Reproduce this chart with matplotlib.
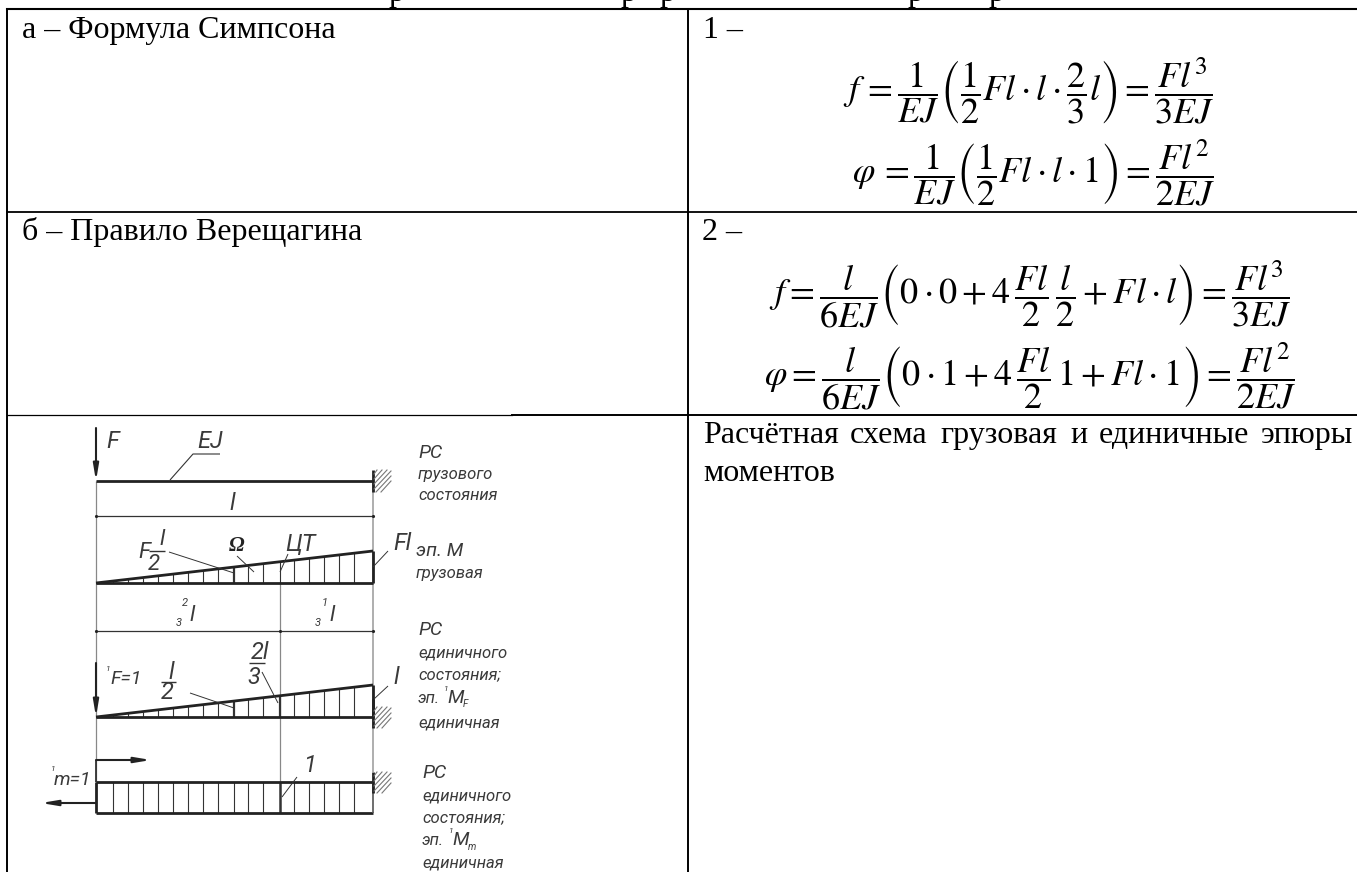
import matplotlib
matplotlib.use("Agg")
import matplotlib.pyplot as plt

plt.rcParams['font.family'] = ['Liberation Serif', 'DejaVu Serif']
plt.rcParams['mathtext.fontset'] = 'stix'

# ---- table content -------------------------------------------------------
row_lines = [9, 212, 415]
col_left, col_mid = 7, 688
cell_a = "а – Формула Симпсона"
cell_b = "б – Правило Верещагина"
cell_1 = "1 –"
cell_2 = "2 –"
note_words = ["Расчётная", "схема", "грузовая", "и", "единичные", "эпюры"]
note_xs = [703, 850, 940, 1070, 1099, 1261]
note_line2 = "моментов"

f1 = r"$f\,=\dfrac{1}{EJ}\left(\dfrac{1}{2}Fl\cdot l\cdot\dfrac{2}{3}l\right)=\dfrac{Fl^3}{3EJ}$"
phi1 = r"$\varphi\,=\dfrac{1}{EJ}\left(\dfrac{1}{2}Fl\cdot l\cdot 1\right)=\dfrac{Fl^2}{2EJ}$"
f2 = r"$f=\dfrac{l}{6EJ}\left(0\cdot 0+4\,\dfrac{Fl}{2}\,\dfrac{l}{2}+Fl\cdot l\right)=\dfrac{Fl^3}{3EJ}$"
phi2 = r"$\varphi=\dfrac{l}{6EJ}\left(0\cdot 1+4\,\dfrac{Fl}{2}\,1+Fl\cdot 1\right)=\dfrac{Fl^2}{2EJ}$"

# ---- diagram geometry values (pixels of the drawing) ----------------------
beam_x0, beam_x1, ct_x, half_x = 96, 373, 280, 234
hatch_x = [113, 128, 143, 158, 173, 188, 203, 218, 234, 248, 263, 280, 294, 309, 324, 339, 354]
y_beam = 481
y_dim_l = 516
y_base_m, y_top_m = 583, 551
y_dim_23 = 631
y_base_f, y_top_f = 717, 685
y_rect_top, y_rect_bot = 782, 813

caption_lines = [
    (418, 458, "РС", 14), (418, 479, "грузового", 12), (418, 500, "состояния", 12),
    (416, 556, "эп. М", 14), (416, 578, "грузовая", 12),
    (418, 635, "РС", 14), (418, 657, "единичного", 12), (418, 679, "состояния;", 12),
    (418, 703, "эп.", 12), (447, 703, "M", 14), (444, 691, "1", 6), (463, 707, "F", 7),
    (418, 727, "единичная", 12),
    (422, 778, "РС", 14), (422, 800, "единичного", 12), (422, 822, "состояния;", 12),
    (422, 845, "эп.", 12), (452, 845, "M", 14), (449, 833, "1", 6), (468, 850, "m", 7),
    (422, 867, "единичная", 12),
]

labels = [
    (106, 448, "F", 17), (197, 448, "EJ", 17), (229, 510, "l", 17),
    (138, 558, "F", 16), (159, 545, "l", 16), (148, 570, "2", 16),
    (285, 551, "ЦТ", 17), (393, 550, "Fl", 17),
    (182, 606, "2", 8), (176, 626, "3", 8), (189, 621, "l", 16),
    (322, 606, "1", 8), (315, 626, "3", 8), (329, 621, "l", 16),
    (251, 659, "2l", 17), (247, 684, "3", 17), (168, 679, "l", 17), (161, 699, "2", 17),
    (110, 684, "F=1", 14), (106, 671, "1", 6), (393, 684, "l", 17), (303, 772, "1", 17),
    (54, 785, "m=1", 14), (51, 771, "1", 6),
]
omega_label = (229, 551, "Ω")

fig = plt.figure(figsize=(13.57, 8.72), dpi=100)
ax = fig.add_axes([0, 0, 1, 1])
ax.set_xlim(0, 1357)
ax.set_ylim(872, 0)
ax.axis('off')

TXT = 23
# table lines
ax.plot([col_left, 1357], [row_lines[0]] * 2, color='k', lw=1.5)
ax.plot([col_left, 1357], [row_lines[1]] * 2, color='k', lw=1.3)
ax.plot([col_left, 512], [row_lines[2]] * 2, color='k', lw=0.9)
ax.plot([512, 1357], [row_lines[2]] * 2, color='k', lw=1.4)
ax.plot([col_left] * 2, [9, 872], color='k', lw=1.4)
ax.plot([col_mid] * 2, [9, 872], color='k', lw=1.4)

# clipped caption remnants above the table
for x in [396, 628, 667, 915, 996]:
    ax.text(x, 1, "р", fontsize=TXT, ha='center', va='baseline', color='k')

ax.text(22, 38, cell_a, fontsize=TXT, va='baseline', color='k')
ax.text(22, 240, cell_b, fontsize=TXT, va='baseline', color='k')
ax.text(703, 38, cell_1, fontsize=TXT, va='baseline', color='k')
ax.text(702, 240, cell_2, fontsize=TXT, va='baseline', color='k')

for x, w in zip(note_xs, note_words):
    ax.text(x, 443, w, fontsize=TXT, va='baseline', color='k')
ax.text(703, 481, note_line2, fontsize=TXT, va='baseline', color='k')

# formulas
FS = 26
ax.text(843, 101, f1, fontsize=FS, ha='left', va='baseline', color='k')
ax.text(852, 183, phi1, fontsize=FS, ha='left', va='baseline', color='k')
ax.text(769, 304, f2, fontsize=FS, ha='left', va='baseline', color='k')
ax.text(764, 386, phi2, fontsize=FS, ha='left', va='baseline', color='k')

# diagram
DRAW = '#333333'
ITAL = dict(family=['Roboto', 'Liberation Sans'], style='italic', color='#3a3a3a')

def ln(xs, ys, lw=0.8, c=DRAW):
    ax.plot(xs, ys, color=c, lw=lw, solid_capstyle='butt')

def wall(y0, y1, yh0):
    ax.plot([beam_x1] * 2, [y0, y1], color='#222222', lw=2.0, solid_capstyle='butt')
    y = yh0 + 4
    while y < y1 + 12:
        ax.plot([beam_x1 + 1 + max(0, y - y1), beam_x1 + min(y - yh0, 18)],
                [min(y, y1), max(y - 18, yh0)], color='#777777', lw=0.8)
        y += 5

def arrow(x0, y0, x1, y1):
    ax.annotate('', xy=(x1, y1), xytext=(x0, y0),
                arrowprops=dict(arrowstyle='-|>,head_length=0.95,head_width=0.16',
                                color='#222222', lw=1.5, shrinkA=0, shrinkB=0))

# extension lines
ln([beam_x0] * 2, [481, 803], 0.9, '#888888')
ln([beam_x1] * 2, [481, 772], 1.1, '#999999')
ln([ct_x] * 2, [583, 782], 0.9, '#888888')

# loading state
ln([beam_x0, beam_x1], [y_beam] * 2, 2.0, '#222222')
arrow(96, 428, 96, 481)
wall(470, 492, 470)
ln([170, 193, 220], [480, 454, 454])

# dimension lines
ln([beam_x0, beam_x1], [y_dim_l] * 2, 0.9)
ln([beam_x0, beam_x1], [y_dim_23] * 2, 0.9)
for x, y in [(96, 516), (373, 516), (96, 631), (280, 631), (373, 631)]:
    ax.plot([x], [y], marker='.', ms=2.5, color='#222222')

# moment diagrams
def top_y(x, base, top):
    return base + (top - base) * (x - beam_x0) / (beam_x1 - beam_x0)

for base, top in [(y_base_m, y_top_m), (y_base_f, y_top_f)]:
    for x in hatch_x:
        lw = 1.6 if (x == half_x or (x == ct_x and base == y_base_f)) else 0.8
        ln([x, x], [base, top_y(x, base, top)], lw, '#333333')
    ln([beam_x0, beam_x1], [top_y(beam_x0, base, top), top], 2.0, '#222222')
    ln([beam_x0, beam_x1], [base, base], 2.0, '#222222')
    ln([beam_x1, beam_x1], [base, top], 2.0, '#222222')

wall(699, 728, 707)
arrow(96, 663, 96, 717)

# unit moment rectangle
for x in hatch_x:
    ln([x, x], [y_rect_top, y_rect_bot], 1.8 if x == ct_x else 0.8, '#333333')
ln([beam_x0, beam_x1], [y_rect_top] * 2, 2.0, '#222222')
ln([beam_x0, beam_x1], [y_rect_bot] * 2, 2.0, '#222222')
ln([beam_x0] * 2, [y_rect_top, y_rect_bot], 2.0, '#222222')
ln([beam_x1] * 2, [y_rect_top, y_rect_bot], 1.2, '#555555')
wall(772, 793, 772)
ln([96, 96], [760, 782], 1.3, '#333333')
arrow(96, 760, 151, 760)
arrow(96, 803, 41, 803)

# leaders
ln([169, 234], [552, 573], 0.7)
ln([237, 254], [556, 572], 0.7)
ln([288, 280], [554, 572], 0.7)
ln([388, 373], [551, 567], 0.7)
ln([190, 234], [693, 708], 0.7)
ln([262, 278], [672, 703], 0.7)
ln([388, 374], [686, 699], 0.7)
ln([297, 282], [777, 797], 0.7)

# fraction bars of the hand labels
ln([149, 165], [551, 551], 1.0)
ln([249, 265], [663, 663], 1.0)
ln([161, 176], [682, 682], 1.0)

for x, y, s, fs in labels:
    ax.text(x, y, s, fontsize=fs, va='baseline', **ITAL)
ax.text(omega_label[0], omega_label[1], omega_label[2], fontsize=15, va='baseline',
        family=['Liberation Serif'], style='italic', weight='bold', color='#222222')
for x, y, s, fs in caption_lines:
    ax.text(x, y, s, fontsize=fs, va='baseline', **ITAL)

fig.savefig('out.png', dpi=100, facecolor='white')
